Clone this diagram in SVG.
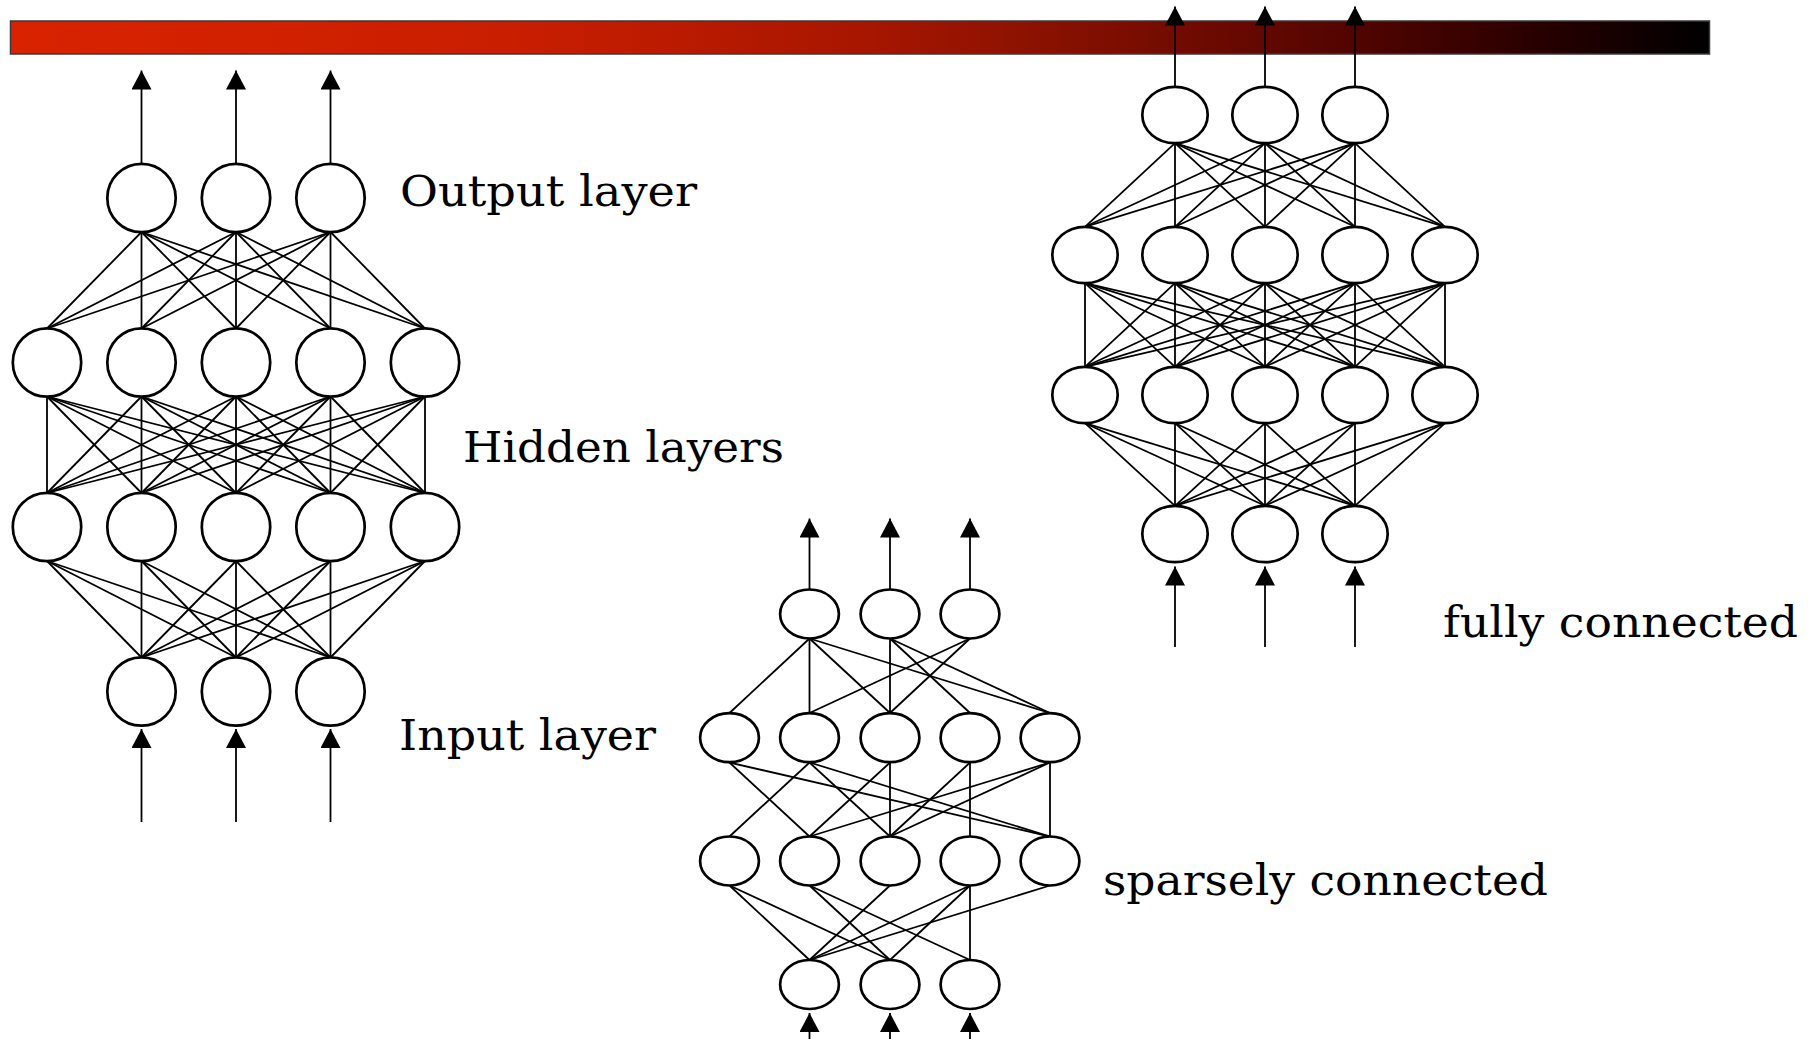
<svg xmlns="http://www.w3.org/2000/svg" width="1819" height="1039" viewBox="0 0 1819 1039">
  <defs>
    <linearGradient id="barFill" x1="0" y1="0" x2="1" y2="0">
      <stop offset="0" stop-color="#d92300"/>
      <stop offset="0.3" stop-color="#c91e00"/>
      <stop offset="0.5" stop-color="#a81600"/>
      <stop offset="0.6" stop-color="#8c1200"/>
      <stop offset="0.7" stop-color="#6e0a00"/>
      <stop offset="0.8" stop-color="#4e0400"/>
      <stop offset="0.9" stop-color="#280000"/>
      <stop offset="1" stop-color="#000000"/>
    </linearGradient>
    <marker id="head" markerUnits="userSpaceOnUse" markerWidth="20" markerHeight="20" viewBox="0 0 19 20" refX="19" refY="10" orient="auto">
      <path d="M0,0 L19,10 L0,20 Z" fill="#000"/>
    </marker>
  </defs>
  <style>
    .node { fill: #fff; stroke: #000; stroke-width: 2.7; }
    .edge line { stroke: #000; stroke-width: 1.8; }
    .io { stroke: #000; stroke-width: 1.9; marker-end: url(#head); }
    .label { font-family: "DejaVu Serif", "Liberation Serif", serif; font-size: 43px; fill: #000; }
  </style>

  <rect id="title-bar" x="10.5" y="21" width="1699" height="33" fill="url(#barFill)" stroke="#3a3a3a" stroke-width="1.5"/>

  <!-- ===== left network: 3-5-5-3 fully connected ===== -->
  <g id="left-connectors" class="edge">
    <!-- output -> hidden 1 -->
    <line x1="141.5" y1="232" x2="47" y2="328.5"/><line x1="141.5" y1="232" x2="141.5" y2="328.5"/><line x1="141.5" y1="232" x2="236" y2="328.5"/><line x1="141.5" y1="232" x2="330.5" y2="328.5"/><line x1="141.5" y1="232" x2="425" y2="328.5"/>
    <line x1="236" y1="232" x2="47" y2="328.5"/><line x1="236" y1="232" x2="141.5" y2="328.5"/><line x1="236" y1="232" x2="236" y2="328.5"/><line x1="236" y1="232" x2="330.5" y2="328.5"/><line x1="236" y1="232" x2="425" y2="328.5"/>
    <line x1="330.5" y1="232" x2="47" y2="328.5"/><line x1="330.5" y1="232" x2="141.5" y2="328.5"/><line x1="330.5" y1="232" x2="236" y2="328.5"/><line x1="330.5" y1="232" x2="330.5" y2="328.5"/><line x1="330.5" y1="232" x2="425" y2="328.5"/>
    <!-- hidden 1 -> hidden 2 -->
    <line x1="47" y1="396.5" x2="47" y2="493"/><line x1="47" y1="396.5" x2="141.5" y2="493"/><line x1="47" y1="396.5" x2="236" y2="493"/><line x1="47" y1="396.5" x2="330.5" y2="493"/><line x1="47" y1="396.5" x2="425" y2="493"/>
    <line x1="141.5" y1="396.5" x2="47" y2="493"/><line x1="141.5" y1="396.5" x2="141.5" y2="493"/><line x1="141.5" y1="396.5" x2="236" y2="493"/><line x1="141.5" y1="396.5" x2="330.5" y2="493"/><line x1="141.5" y1="396.5" x2="425" y2="493"/>
    <line x1="236" y1="396.5" x2="47" y2="493"/><line x1="236" y1="396.5" x2="141.5" y2="493"/><line x1="236" y1="396.5" x2="236" y2="493"/><line x1="236" y1="396.5" x2="330.5" y2="493"/><line x1="236" y1="396.5" x2="425" y2="493"/>
    <line x1="330.5" y1="396.5" x2="47" y2="493"/><line x1="330.5" y1="396.5" x2="141.5" y2="493"/><line x1="330.5" y1="396.5" x2="236" y2="493"/><line x1="330.5" y1="396.5" x2="330.5" y2="493"/><line x1="330.5" y1="396.5" x2="425" y2="493"/>
    <line x1="425" y1="396.5" x2="47" y2="493"/><line x1="425" y1="396.5" x2="141.5" y2="493"/><line x1="425" y1="396.5" x2="236" y2="493"/><line x1="425" y1="396.5" x2="330.5" y2="493"/><line x1="425" y1="396.5" x2="425" y2="493"/>
    <!-- hidden 2 -> input -->
    <line x1="47" y1="561" x2="141.5" y2="657.5"/><line x1="47" y1="561" x2="236" y2="657.5"/><line x1="47" y1="561" x2="330.5" y2="657.5"/>
    <line x1="141.5" y1="561" x2="141.5" y2="657.5"/><line x1="141.5" y1="561" x2="236" y2="657.5"/><line x1="141.5" y1="561" x2="330.5" y2="657.5"/>
    <line x1="236" y1="561" x2="141.5" y2="657.5"/><line x1="236" y1="561" x2="236" y2="657.5"/><line x1="236" y1="561" x2="330.5" y2="657.5"/>
    <line x1="330.5" y1="561" x2="141.5" y2="657.5"/><line x1="330.5" y1="561" x2="236" y2="657.5"/><line x1="330.5" y1="561" x2="330.5" y2="657.5"/>
    <line x1="425" y1="561" x2="141.5" y2="657.5"/><line x1="425" y1="561" x2="236" y2="657.5"/><line x1="425" y1="561" x2="330.5" y2="657.5"/>
    <!-- outputs and inputs -->
    <line class="io" x1="141.5" y1="163.5" x2="141.5" y2="70.5"/><line class="io" x1="236" y1="163.5" x2="236" y2="70.5"/><line class="io" x1="330.5" y1="163.5" x2="330.5" y2="70.5"/>
    <line class="io" x1="141.5" y1="822" x2="141.5" y2="729"/><line class="io" x1="236" y1="822" x2="236" y2="729"/><line class="io" x1="330.5" y1="822" x2="330.5" y2="729"/>
  </g>
  <g id="left-output-layer">
    <circle class="node" cx="141.5" cy="198" r="34.2"/><circle class="node" cx="236" cy="198" r="34.2"/><circle class="node" cx="330.5" cy="198" r="34.2"/>
  </g>
  <g id="left-hidden-layer-1">
    <circle class="node" cx="47" cy="362.5" r="34.2"/><circle class="node" cx="141.5" cy="362.5" r="34.2"/><circle class="node" cx="236" cy="362.5" r="34.2"/><circle class="node" cx="330.5" cy="362.5" r="34.2"/><circle class="node" cx="425" cy="362.5" r="34.2"/>
  </g>
  <g id="left-hidden-layer-2">
    <circle class="node" cx="47" cy="527" r="34.2"/><circle class="node" cx="141.5" cy="527" r="34.2"/><circle class="node" cx="236" cy="527" r="34.2"/><circle class="node" cx="330.5" cy="527" r="34.2"/><circle class="node" cx="425" cy="527" r="34.2"/>
  </g>
  <g id="left-input-layer">
    <circle class="node" cx="141.5" cy="691.5" r="34.2"/><circle class="node" cx="236" cy="691.5" r="34.2"/><circle class="node" cx="330.5" cy="691.5" r="34.2"/>
  </g>
  <g id="left-labels">
    <text class="label" x="400" y="206" textLength="297" lengthAdjust="spacingAndGlyphs">Output layer</text>
    <text class="label" x="463" y="462" textLength="321" lengthAdjust="spacingAndGlyphs">Hidden layers</text>
    <text class="label" x="399" y="750" textLength="257" lengthAdjust="spacingAndGlyphs">Input layer</text>
  </g>

  <!-- ===== right network: 3-5-5-3 fully connected ===== -->
  <g id="right-connectors" class="edge">
    <!-- output -> hidden 1 -->
    <line x1="1175" y1="143.2" x2="1085" y2="226.8"/><line x1="1175" y1="143.2" x2="1175" y2="226.8"/><line x1="1175" y1="143.2" x2="1265" y2="226.8"/><line x1="1175" y1="143.2" x2="1355" y2="226.8"/><line x1="1175" y1="143.2" x2="1445" y2="226.8"/>
    <line x1="1265" y1="143.2" x2="1085" y2="226.8"/><line x1="1265" y1="143.2" x2="1175" y2="226.8"/><line x1="1265" y1="143.2" x2="1265" y2="226.8"/><line x1="1265" y1="143.2" x2="1355" y2="226.8"/><line x1="1265" y1="143.2" x2="1445" y2="226.8"/>
    <line x1="1355" y1="143.2" x2="1085" y2="226.8"/><line x1="1355" y1="143.2" x2="1175" y2="226.8"/><line x1="1355" y1="143.2" x2="1265" y2="226.8"/><line x1="1355" y1="143.2" x2="1355" y2="226.8"/><line x1="1355" y1="143.2" x2="1445" y2="226.8"/>
    <!-- hidden 1 -> hidden 2 -->
    <line x1="1085" y1="283.2" x2="1085" y2="366.8"/><line x1="1085" y1="283.2" x2="1175" y2="366.8"/><line x1="1085" y1="283.2" x2="1265" y2="366.8"/><line x1="1085" y1="283.2" x2="1355" y2="366.8"/><line x1="1085" y1="283.2" x2="1445" y2="366.8"/>
    <line x1="1175" y1="283.2" x2="1085" y2="366.8"/><line x1="1175" y1="283.2" x2="1175" y2="366.8"/><line x1="1175" y1="283.2" x2="1265" y2="366.8"/><line x1="1175" y1="283.2" x2="1355" y2="366.8"/><line x1="1175" y1="283.2" x2="1445" y2="366.8"/>
    <line x1="1265" y1="283.2" x2="1085" y2="366.8"/><line x1="1265" y1="283.2" x2="1175" y2="366.8"/><line x1="1265" y1="283.2" x2="1265" y2="366.8"/><line x1="1265" y1="283.2" x2="1355" y2="366.8"/><line x1="1265" y1="283.2" x2="1445" y2="366.8"/>
    <line x1="1355" y1="283.2" x2="1085" y2="366.8"/><line x1="1355" y1="283.2" x2="1175" y2="366.8"/><line x1="1355" y1="283.2" x2="1265" y2="366.8"/><line x1="1355" y1="283.2" x2="1355" y2="366.8"/><line x1="1355" y1="283.2" x2="1445" y2="366.8"/>
    <line x1="1445" y1="283.2" x2="1085" y2="366.8"/><line x1="1445" y1="283.2" x2="1175" y2="366.8"/><line x1="1445" y1="283.2" x2="1265" y2="366.8"/><line x1="1445" y1="283.2" x2="1355" y2="366.8"/><line x1="1445" y1="283.2" x2="1445" y2="366.8"/>
    <!-- hidden 2 -> input -->
    <line x1="1085" y1="423.2" x2="1175" y2="505.8"/><line x1="1085" y1="423.2" x2="1265" y2="505.8"/><line x1="1085" y1="423.2" x2="1355" y2="505.8"/>
    <line x1="1175" y1="423.2" x2="1175" y2="505.8"/><line x1="1175" y1="423.2" x2="1265" y2="505.8"/><line x1="1175" y1="423.2" x2="1355" y2="505.8"/>
    <line x1="1265" y1="423.2" x2="1175" y2="505.8"/><line x1="1265" y1="423.2" x2="1265" y2="505.8"/><line x1="1265" y1="423.2" x2="1355" y2="505.8"/>
    <line x1="1355" y1="423.2" x2="1175" y2="505.8"/><line x1="1355" y1="423.2" x2="1265" y2="505.8"/><line x1="1355" y1="423.2" x2="1355" y2="505.8"/>
    <line x1="1445" y1="423.2" x2="1175" y2="505.8"/><line x1="1445" y1="423.2" x2="1265" y2="505.8"/><line x1="1445" y1="423.2" x2="1355" y2="505.8"/>
    <!-- outputs and inputs -->
    <line class="io" x1="1175" y1="86.8" x2="1175" y2="6.5"/><line class="io" x1="1265" y1="86.8" x2="1265" y2="6.5"/><line class="io" x1="1355" y1="86.8" x2="1355" y2="6.5"/>
    <line class="io" x1="1175" y1="647" x2="1175" y2="566.5"/><line class="io" x1="1265" y1="647" x2="1265" y2="566.5"/><line class="io" x1="1355" y1="647" x2="1355" y2="566.5"/>
  </g>
  <g id="right-output-layer">
    <ellipse class="node" cx="1175" cy="115" rx="32.7" ry="28.2"/><ellipse class="node" cx="1265" cy="115" rx="32.7" ry="28.2"/><ellipse class="node" cx="1355" cy="115" rx="32.7" ry="28.2"/>
  </g>
  <g id="right-hidden-layer-1">
    <ellipse class="node" cx="1085" cy="255" rx="32.7" ry="28.2"/><ellipse class="node" cx="1175" cy="255" rx="32.7" ry="28.2"/><ellipse class="node" cx="1265" cy="255" rx="32.7" ry="28.2"/><ellipse class="node" cx="1355" cy="255" rx="32.7" ry="28.2"/><ellipse class="node" cx="1445" cy="255" rx="32.7" ry="28.2"/>
  </g>
  <g id="right-hidden-layer-2">
    <ellipse class="node" cx="1085" cy="395" rx="32.7" ry="28.2"/><ellipse class="node" cx="1175" cy="395" rx="32.7" ry="28.2"/><ellipse class="node" cx="1265" cy="395" rx="32.7" ry="28.2"/><ellipse class="node" cx="1355" cy="395" rx="32.7" ry="28.2"/><ellipse class="node" cx="1445" cy="395" rx="32.7" ry="28.2"/>
  </g>
  <g id="right-input-layer">
    <ellipse class="node" cx="1175" cy="534" rx="32.7" ry="28.2"/><ellipse class="node" cx="1265" cy="534" rx="32.7" ry="28.2"/><ellipse class="node" cx="1355" cy="534" rx="32.7" ry="28.2"/>
  </g>
  <text id="fully-connected-label" class="label" x="1443" y="637" textLength="355" lengthAdjust="spacingAndGlyphs">fully connected</text>

  <!-- ===== middle network: 3-5-5-3 sparsely connected ===== -->
  <g id="sparse-connectors" class="edge">
    <!-- output -> hidden 1 -->
    <line x1="809.5" y1="638.5" x2="729.5" y2="713"/><line x1="809.5" y1="638.5" x2="809.5" y2="713"/><line x1="809.5" y1="638.5" x2="890" y2="713"/><line x1="809.5" y1="638.5" x2="1050" y2="713"/>
    <line x1="890" y1="638.5" x2="890" y2="713"/><line x1="890" y1="638.5" x2="970" y2="713"/><line x1="890" y1="638.5" x2="1050" y2="713"/>
    <line x1="970" y1="638.5" x2="809.5" y2="713"/><line x1="970" y1="638.5" x2="890" y2="713"/>
    <!-- hidden 1 -> hidden 2 -->
    <line x1="729.5" y1="762.5" x2="809.5" y2="836.5"/><line x1="729.5" y1="762.5" x2="1050" y2="836.5"/>
    <line x1="809.5" y1="762.5" x2="729.5" y2="836.5"/><line x1="809.5" y1="762.5" x2="890" y2="836.5"/><line x1="809.5" y1="762.5" x2="1050" y2="836.5"/>
    <line x1="890" y1="762.5" x2="809.5" y2="836.5"/><line x1="890" y1="762.5" x2="890" y2="836.5"/>
    <line x1="970" y1="762.5" x2="890" y2="836.5"/><line x1="970" y1="762.5" x2="970" y2="836.5"/>
    <line x1="1050" y1="762.5" x2="809.5" y2="836.5"/><line x1="1050" y1="762.5" x2="890" y2="836.5"/><line x1="1050" y1="762.5" x2="1050" y2="836.5"/>
    <!-- hidden 2 -> input -->
    <line x1="729.5" y1="885.5" x2="809.5" y2="960"/><line x1="729.5" y1="885.5" x2="890" y2="960"/>
    <line x1="809.5" y1="885.5" x2="890" y2="960"/><line x1="809.5" y1="885.5" x2="970" y2="960"/>
    <line x1="890" y1="885.5" x2="809.5" y2="960"/>
    <line x1="970" y1="885.5" x2="809.5" y2="960"/><line x1="970" y1="885.5" x2="890" y2="960"/><line x1="970" y1="885.5" x2="970" y2="960"/>
    <line x1="1050" y1="885.5" x2="809.5" y2="960"/>
    <!-- outputs and inputs -->
    <line class="io" x1="809.5" y1="589.5" x2="809.5" y2="518.5"/><line class="io" x1="890" y1="589.5" x2="890" y2="518.5"/><line class="io" x1="970" y1="589.5" x2="970" y2="518.5"/>
    <line class="io" x1="809.5" y1="1045" x2="809.5" y2="1013"/><line class="io" x1="890" y1="1045" x2="890" y2="1013"/><line class="io" x1="970" y1="1045" x2="970" y2="1013"/>
  </g>
  <g id="sparse-output-layer">
    <ellipse class="node" cx="809.5" cy="614" rx="29.4" ry="24.5"/><ellipse class="node" cx="890" cy="614" rx="29.4" ry="24.5"/><ellipse class="node" cx="970" cy="614" rx="29.4" ry="24.5"/>
  </g>
  <g id="sparse-hidden-layer-1">
    <ellipse class="node" cx="729.5" cy="737.7" rx="29.4" ry="24.5"/><ellipse class="node" cx="809.5" cy="737.7" rx="29.4" ry="24.5"/><ellipse class="node" cx="890" cy="737.7" rx="29.4" ry="24.5"/><ellipse class="node" cx="970" cy="737.7" rx="29.4" ry="24.5"/><ellipse class="node" cx="1050" cy="737.7" rx="29.4" ry="24.5"/>
  </g>
  <g id="sparse-hidden-layer-2">
    <ellipse class="node" cx="729.5" cy="861" rx="29.4" ry="24.5"/><ellipse class="node" cx="809.5" cy="861" rx="29.4" ry="24.5"/><ellipse class="node" cx="890" cy="861" rx="29.4" ry="24.5"/><ellipse class="node" cx="970" cy="861" rx="29.4" ry="24.5"/><ellipse class="node" cx="1050" cy="861" rx="29.4" ry="24.5"/>
  </g>
  <g id="sparse-input-layer">
    <ellipse class="node" cx="809.5" cy="984.5" rx="29.4" ry="24.5"/><ellipse class="node" cx="890" cy="984.5" rx="29.4" ry="24.5"/><ellipse class="node" cx="970" cy="984.5" rx="29.4" ry="24.5"/>
  </g>
  <text id="sparsely-connected-label" class="label" x="1103" y="895" textLength="445" lengthAdjust="spacingAndGlyphs">sparsely connected</text>
</svg>
